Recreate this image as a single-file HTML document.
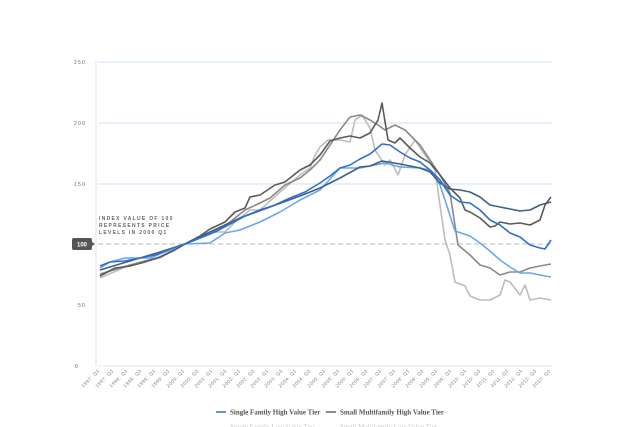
<!DOCTYPE html>
<html><head><meta charset="utf-8"><style>
body{margin:0;background:#fff;width:640px;height:427px;overflow:hidden}
svg{display:block}
</style></head><body>
<svg width="640" height="427" viewBox="0 0 640 427" xmlns="http://www.w3.org/2000/svg" font-family="Liberation Sans, sans-serif">
<g stroke="#d8e6f8" stroke-width="1.2">
<line x1="98" y1="62" x2="552" y2="62"/><line x1="98" y1="123" x2="552" y2="123"/><line x1="98" y1="184" x2="552" y2="184"/>
</g>
<line x1="96" y1="60" x2="96" y2="366" stroke="#e2e2e2" stroke-width="1"/>
<line x1="98" y1="366" x2="552" y2="366" stroke="#e6e6e6" stroke-width="1"/>
<line x1="98" y1="244" x2="552" y2="244" stroke="#bbb" stroke-width="1" stroke-dasharray="5,3"/>
<g font-size="5" fill="#666" letter-spacing="1.2" text-anchor="end">
<text x="86" y="64">250</text><text x="86" y="125">200</text><text x="86" y="186">150</text><text x="86" y="307">50</text><text x="79" y="368">0</text>
</g>
<rect x="72" y="238" width="20" height="12" rx="2" fill="#555"/>
<polygon points="92,242 95,244 92,246" fill="#555"/>
<text x="82" y="246.5" font-size="6" fill="#fff" text-anchor="middle" font-weight="bold">100</text>
<g font-size="5" fill="#666" letter-spacing="1.3" font-weight="bold">
<text x="99" y="220">INDEX VALUE OF 100</text><text x="99" y="227">REPRESENTS PRICE</text><text x="99" y="234">LEVELS IN 2000 Q1</text>
</g>
<g fill="none" stroke-width="1.6" stroke-linejoin="round">
<polyline stroke="#bdbdbd" points="100,278 130,265 160,258 185,244 210,232 225,232 235,222 250,210 260,210 280,192 300,175 310,168 315,155 320,147 328,140 340,140 350,142 355,120 362,115 370,128 375,150 385,165 390,160 398,175 405,155 415,140 425,155 435,170 445,240 450,255 455,282 465,286 470,296 480,300 490,300 500,295 505,280 510,282 520,295 525,285 530,300 540,298 551,300"/>
<polyline stroke="#8a8a8a" points="100,274 130,265 160,257 185,244 210,234 230,222 245,210 260,203 270,198 285,185 300,178 310,170 320,160 330,145 340,130 350,117 360,115 370,120 378,125 385,130 395,125 405,130 420,145 430,160 440,175 450,193 458,245 470,255 480,265 490,268 500,275 510,272 520,272 530,268 540,266 551,264"/>
<polyline stroke="#6aa6ee" points="100,268 110,262 125,258 150,258 170,250 185,244 210,243 225,233 240,230 260,222 280,212 300,200 320,190 340,168 360,168 375,165 385,163 400,167 420,168 430,170 440,185 445,200 455,231 470,236 480,243 490,251 500,260 510,267 520,273 530,273 540,275 551,277"/>
<polyline stroke="#5a5a5a" points="100,276 115,268 130,266 145,262 160,257 175,250 185,244 200,236 210,229 225,222 235,212 245,208 250,197 260,195 275,185 285,182 300,170 310,165 320,155 330,141 340,138 350,136 360,138 370,133 378,120 382,103 388,140 395,143 400,138 410,148 420,157 430,163 440,175 450,188 460,198 465,210 470,212 480,218 490,227 495,226 500,222 510,224 520,223 530,225 540,220 545,205 551,197"/>
<polyline stroke="#41607f" points="100,270 130,261 160,252 185,244 210,232 240,218 270,207 300,196 320,188 340,178 360,167 370,166 382,161 400,164 420,168 430,172 440,183 450,189 460,190 470,192 480,197 490,205 500,207 510,209 520,211 530,210 540,205 551,202"/>
<polyline stroke="#2f6fd0" points="100,266 110,262 125,261 140,258 155,255 170,249 185,244 200,238 215,232 230,224 245,216 260,210 275,205 290,198 305,192 320,183 330,176 340,168 350,165 360,159 370,154 375,150 382,144 390,145 400,152 410,158 420,162 430,170 440,180 450,195 460,202 470,203 480,210 490,220 500,225 510,233 520,237 530,245 540,248 545,249 551,240"/>
</g>
<g font-size="4.6" fill="#777" letter-spacing="0.8" text-anchor="end" id="xl"></g>
<line x1="216" y1="412" x2="226" y2="412" stroke="#2f6fd0" stroke-width="1.5"/>
<text x="230" y="414.5" font-family="Liberation Serif, serif" font-weight="bold" font-size="7" fill="#555">Single Family High Value Tier</text>
<line x1="326" y1="412" x2="336" y2="412" stroke="#666" stroke-width="1.5"/>
<text x="340" y="414.5" font-family="Liberation Serif, serif" font-weight="bold" font-size="7" fill="#555">Small Multifamily High Value Tier</text>
<text x="230" y="429" font-family="Liberation Serif, serif" font-size="7" fill="#ccc">Single Family Low Value Tier</text>
<text x="340" y="429" font-family="Liberation Serif, serif" font-size="7" fill="#ccc">Small Multifamily Low Value Tier</text>
<g font-size="4.6" fill="#777" letter-spacing="0.6" text-anchor="end">
<text transform="translate(100,371) rotate(-45)">1997: Q1</text>
<text transform="translate(114,371) rotate(-45)">1997: Q3</text>
<text transform="translate(128,371) rotate(-45)">1998: Q1</text>
<text transform="translate(142,371) rotate(-45)">1998: Q3</text>
<text transform="translate(156,371) rotate(-45)">1999: Q1</text>
<text transform="translate(170,371) rotate(-45)">1999: Q3</text>
<text transform="translate(185,371) rotate(-45)">2000: Q1</text>
<text transform="translate(199,371) rotate(-45)">2000: Q3</text>
<text transform="translate(213,371) rotate(-45)">2001: Q1</text>
<text transform="translate(227,371) rotate(-45)">2001: Q3</text>
<text transform="translate(241,371) rotate(-45)">2002: Q1</text>
<text transform="translate(255,371) rotate(-45)">2002: Q3</text>
<text transform="translate(269,371) rotate(-45)">2003: Q1</text>
<text transform="translate(283,371) rotate(-45)">2003: Q3</text>
<text transform="translate(297,371) rotate(-45)">2004: Q1</text>
<text transform="translate(311,371) rotate(-45)">2004: Q3</text>
<text transform="translate(326,371) rotate(-45)">2005: Q1</text>
<text transform="translate(340,371) rotate(-45)">2005: Q3</text>
<text transform="translate(354,371) rotate(-45)">2006: Q1</text>
<text transform="translate(368,371) rotate(-45)">2006: Q3</text>
<text transform="translate(382,371) rotate(-45)">2007: Q1</text>
<text transform="translate(396,371) rotate(-45)">2007: Q3</text>
<text transform="translate(410,371) rotate(-45)">2008: Q1</text>
<text transform="translate(424,371) rotate(-45)">2008: Q3</text>
<text transform="translate(438,371) rotate(-45)">2009: Q1</text>
<text transform="translate(452,371) rotate(-45)">2009: Q3</text>
<text transform="translate(467,371) rotate(-45)">2010: Q1</text>
<text transform="translate(481,371) rotate(-45)">2010: Q3</text>
<text transform="translate(495,371) rotate(-45)">2011: Q1</text>
<text transform="translate(509,371) rotate(-45)">2011: Q3</text>
<text transform="translate(523,371) rotate(-45)">2012: Q1</text>
<text transform="translate(537,371) rotate(-45)">2012: Q3</text>
<text transform="translate(551,371) rotate(-45)">2013: Q1</text>
</g>
</svg>
</body></html>
